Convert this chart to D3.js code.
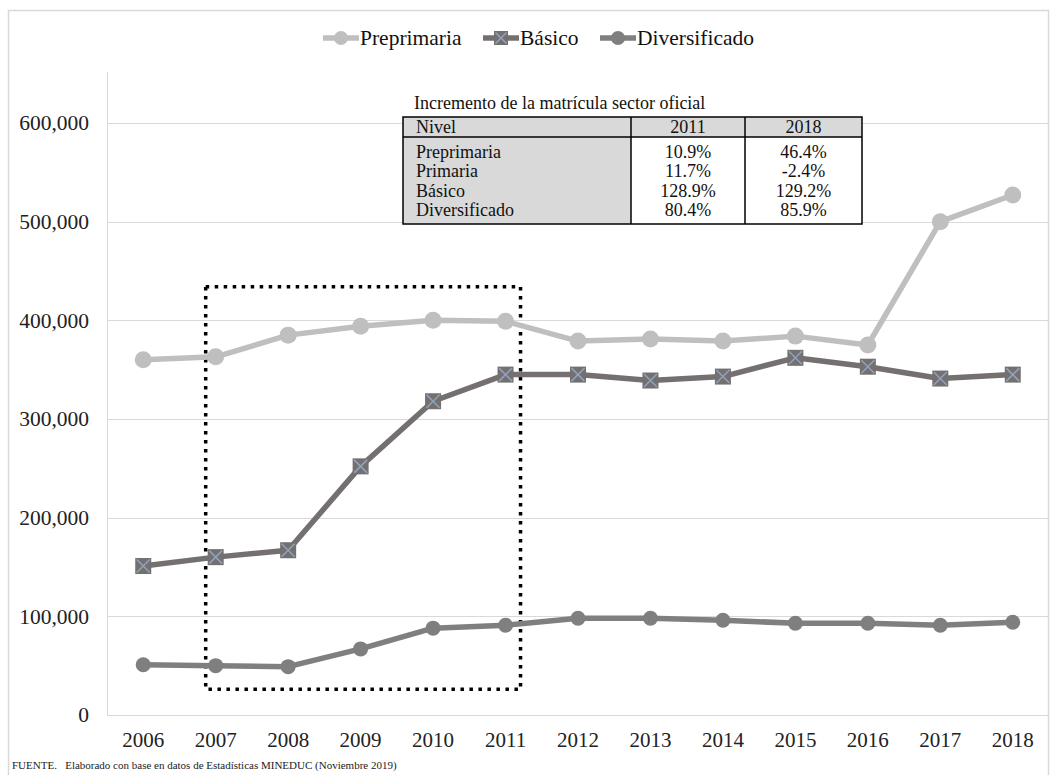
<!DOCTYPE html>
<html><head><meta charset="utf-8">
<script src="https://cdn.jsdelivr.net/npm/d3@7"></script>
<style>body{margin:0;background:#fff}svg{display:block}svg text{font-family:"Liberation Serif","Times New Roman","DejaVu Serif",serif !important}</style>
</head><body>
<svg id="c" width="1053" height="775"></svg>
<script>
const years = ["2006","2007","2008","2009","2010","2011","2012","2013","2014","2015","2016","2017","2018"];
const preprimaria = [360000,363000,385000,394000,400000,399000,379000,381000,379000,384000,375000,500000,527000];
const basico = [151000,160000,167000,252000,318000,345000,345000,339000,343000,362000,353000,341000,345000];
const diversificado = [51000,50000,49000,67000,88000,91000,98000,98000,96000,93000,93000,91000,94000];
const yTicks = [0,100000,200000,300000,400000,500000,600000];
const tableTitle = "Incremento de la matrícula sector oficial";
const tableHeader = ["Nivel","2011","2018"];
const tableRows = [["Preprimaria","10.9%","46.4%"],["Primaria","11.7%","-2.4%"],["Básico","128.9%","129.2%"],["Diversificado","80.4%","85.9%"]];
const highlight = {from:"2007", to:"2011", top:434000, bottom:26000};
const footer = "FUENTE.   Elaborado con base en datos de Estadísticas MINEDUC (Noviembre 2019)";

const svg = d3.select("#c");
const L=107, R=1049, T=72, B=715;
const x = d3.scaleBand().domain(years).range([L,R]);
const y = d3.scaleLinear().domain([0,600000]).range([B,123]);
const cx = d => x(d)+x.bandwidth()/2;

// outer border
svg.append("rect").attr("x",8.5).attr("y",10.5).attr("width",1040).attr("height",800)
  .attr("fill","none").attr("stroke","#d9d9d9").attr("stroke-width",1.5);

// gridlines
svg.append("g").selectAll("line").data(yTicks.slice(1)).join("line")
  .attr("x1",L).attr("x2",R).attr("y1",d=>Math.round(y(d))+0.5).attr("y2",d=>Math.round(y(d))+0.5)
  .attr("stroke","#d9d9d9").attr("stroke-width",1);
svg.append("line").attr("x1",L+0.5).attr("x2",L+0.5).attr("y1",T).attr("y2",B).attr("stroke","#d9d9d9");
svg.append("line").attr("x1",L).attr("x2",R).attr("y1",B+0.5).attr("y2",B+0.5).attr("stroke","#d9d9d9");

// y axis labels
const yAxis = d3.axisLeft(y).tickValues(yTicks).tickSize(0).tickPadding(0).tickFormat(d3.format(","));
const ya = svg.append("g").attr("transform","translate(89,0)").call(yAxis);
ya.select(".domain").remove();
ya.attr("font-family",null);
ya.selectAll("text").attr("font-size",21.5).attr("fill","#222");

// x axis labels
const xAxis = d3.axisBottom(x).tickSize(0).tickPadding(0);
const xa = svg.append("g").attr("transform",`translate(0,${B+17})`).call(xAxis);
xa.select(".domain").remove();
xa.attr("font-family",null);
xa.selectAll("text").attr("font-size",21).attr("fill","#222");

// dotted highlight box
svg.append("rect")
  .attr("x",cx(highlight.from)-10).attr("y",y(highlight.top))
  .attr("width",cx(highlight.to)+15-(cx(highlight.from)-10))
  .attr("height",y(highlight.bottom)-y(highlight.top))
  .attr("fill","none").attr("stroke","#000").attr("stroke-width",3.5).attr("stroke-dasharray","3.5 5.5");

const line = d3.line().x((d,i)=>cx(years[i])).y(d=>y(d));
const series = [
  {name:"Preprimaria", data:preprimaria, color:"#bfbfbf", marker:"circle", r:8.5},
  {name:"Básico", data:basico, color:"#757070", marker:"square"},
  {name:"Diversificado", data:diversificado, color:"#7f7f7f", marker:"circle", r:7.5}
];
function drawMarker(g, s, px, py, size){
  if(s.marker==="circle"){
    g.append("circle").attr("cx",px).attr("cy",py).attr("r",size||s.r).attr("fill",s.color);
  } else {
    const h = size||8;
    g.append("rect").attr("x",px-h).attr("y",py-h).attr("width",2*h).attr("height",2*h).attr("fill",s.color);
    const k = h-1.5;
    g.append("path").attr("d",`M${px-k},${py-k}L${px+k},${py+k}M${px-k},${py+k}L${px+k},${py-k}`)
      .attr("stroke","#8ea3c0").attr("stroke-width",1.5);
  }
}
[series[2],series[1],series[0]].forEach(s=>{
  svg.append("path").datum(s.data).attr("d",line).attr("fill","none")
    .attr("stroke",s.color).attr("stroke-width",5.5).attr("stroke-linejoin","round");
  const g = svg.append("g");
  s.data.forEach((v,i)=>drawMarker(g,s,cx(years[i]),y(v)));
});

// legend
const legendItems = [{s:series[0], x:323},{s:series[1], x:483},{s:series[2], x:600}];
legendItems.forEach(it=>{
  const g = svg.append("g");
  const ly = 38;
  g.append("line").attr("x1",it.x).attr("x2",it.x+36).attr("y1",ly).attr("y2",ly)
    .attr("stroke",it.s.color).attr("stroke-width",5.5);
  drawMarker(g,it.s,it.x+18,ly,7);
  g.append("text").attr("x",it.x+37).attr("y",ly+7).text(it.s.name)
    .attr("font-size",21.5).attr("fill","#111");
});

// table
const tX=[403,631,745,862], tTop=117, tHead=137, tBot=224;
const tg = svg.append("g").attr("font-size",18).attr("fill","#111");
tg.append("text").attr("x",414).attr("y",109).text(tableTitle);
tg.append("rect").attr("x",tX[0]).attr("y",tTop).attr("width",tX[3]-tX[0]).attr("height",tHead-tTop).attr("fill","#d9d9d9");
tg.append("rect").attr("x",tX[0]).attr("y",tHead).attr("width",tX[1]-tX[0]).attr("height",tBot-tHead).attr("fill","#d9d9d9");
tg.append("rect").attr("x",tX[1]).attr("y",tHead).attr("width",tX[3]-tX[1]).attr("height",tBot-tHead).attr("fill","#fff");
tg.append("rect").attr("x",tX[0]).attr("y",tTop).attr("width",tX[3]-tX[0]).attr("height",tBot-tTop)
  .attr("fill","none").attr("stroke","#000").attr("stroke-width",1.5);
tg.append("line").attr("x1",tX[0]).attr("x2",tX[3]).attr("y1",tHead).attr("y2",tHead).attr("stroke","#000").attr("stroke-width",1.5);
[tX[1],tX[2]].forEach(xx=>tg.append("line").attr("x1",xx).attr("x2",xx).attr("y1",tTop).attr("y2",tBot).attr("stroke","#000").attr("stroke-width",1.5));
function cellText(row, yy){
  tg.append("text").attr("x",tX[0]+13).attr("y",yy).text(row[0]);
  tg.append("text").attr("x",(tX[1]+tX[2])/2).attr("y",yy).attr("text-anchor","middle").text(row[1]);
  tg.append("text").attr("x",(tX[2]+tX[3])/2).attr("y",yy).attr("text-anchor","middle").text(row[2]);
}
cellText(tableHeader,133);
tableRows.forEach((r,i)=>cellText(r,158+i*19.3));

// footer
svg.append("text").attr("x",12).attr("y",769).text(footer)
  .attr("font-size",11).attr("fill","#222").style("white-space","pre");
</script>
</body></html>
